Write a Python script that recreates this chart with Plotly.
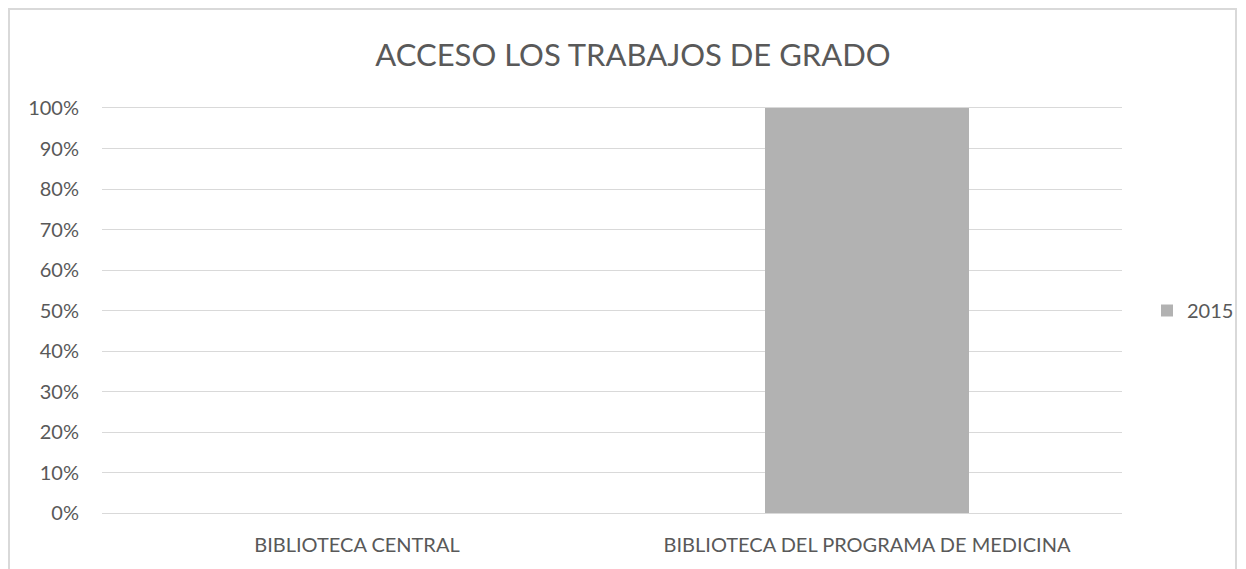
import plotly.graph_objects as go

categories = ["BIBLIOTECA CENTRAL", "BIBLIOTECA DEL PROGRAMA DE MEDICINA"]
values_2015 = [0, 1.0]
series_name = "2015"
title = "ACCESO LOS TRABAJOS DE GRADO"

W, H = 1246, 569
L, R, T, B = 102, 1122, 108, 513

fig = go.Figure()
fig.add_trace(go.Bar(
    x=categories, y=values_2015, name=series_name,
    marker=dict(color="#b2b2b2", line=dict(width=0)),
    width=0.4,
))

font = "Lato, 'Open Sans', Arial, sans-serif"

fig.update_layout(
    width=W, height=H,
    margin=dict(l=L, r=W - R, t=T, b=H - B, pad=0, autoexpand=False),
    paper_bgcolor="white", plot_bgcolor="white",
    font=dict(family=font, color="#595959", size=20),
    title=dict(text=title, x=633 / W, xanchor="center", y=1 - 55 / H, yanchor="middle",
               font=dict(size=31, color="#595959")),
    showlegend=True,
    legend=dict(x=(1147 - L) / (R - L), y=0.5, xanchor="left", yanchor="middle",
                font=dict(size=20, color="#595959"), itemwidth=30,
                bgcolor="rgba(0,0,0,0)"),
    bargap=0.6,
)
fig.update_yaxes(range=[0, 1], tickvals=[i / 10 for i in range(11)], tickformat=".0%",
                 showgrid=True, gridcolor="#d9d9d9", gridwidth=1, zeroline=False,
                 showline=False, ticks="", ticklabelstandoff=22)
# bottom axis line, mirrored on top to stand in for the 100% gridline
fig.update_xaxes(showgrid=False, showline=True, mirror=True, linecolor="#d9d9d9",
                 linewidth=1, ticks="", ticklabelstandoff=14)

# outer chart border
fig.add_shape(type="rect", xref="paper", yref="paper",
              x0=(9 - L) / (R - L), x1=(1236 - L) / (R - L),
              y0=(B - 580) / (B - T), y1=(B - 9) / (B - T),
              line=dict(color="#d9d9d9", width=2), fillcolor="rgba(0,0,0,0)", layer="below")

fig.write_html("out.html", config={"displayModeBar": False},
               post_script="document.body.style.margin='0';")
